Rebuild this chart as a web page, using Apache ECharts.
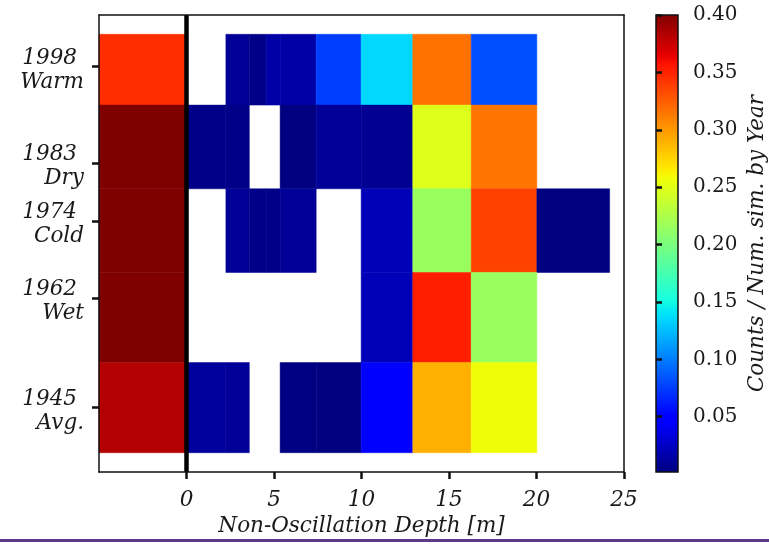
<!DOCTYPE html>
<html>
<head>
<meta charset="utf-8">
<script src="https://cdn.jsdelivr.net/npm/echarts@6/dist/echarts.min.js"></script>
<style>
  html, body { margin: 0; padding: 0; background: #fff; }
  #chart { width: 769px; height: 545px; }
</style>
</head>
<body>
<div id="chart"></div>
<script>
// Depth bin edges [m]; the first bin (-5..0) is the "no non-oscillation" column
const depthEdges = [-5, 0, 2.25, 3.59, 4.55, 5.35, 7.41, 9.98, 12.93, 16.27, 20.02, 24.18];
// Year band edges (top to bottom) and the year each band represents
const yearEdges = [2003, 1992, 1979, 1966, 1952, 1938];
const yearTicks = [1998, 1983, 1974, 1962, 1945];
const yearNames = ['Warm', 'Dry', 'Cold', 'Wet', 'Avg.'];

// Counts / number of simulations per year, one value per depth bin (null = no counts)
const row1998 = [0.345, null, 0.010, 0.005, 0.015, 0.015, 0.076, 0.136, 0.316, 0.082, null];
const row1983 = [0.400, 0.005, 0.005, null, null, 0.002, 0.010, 0.008, 0.248, 0.315, null];
const row1974 = [0.400, null, 0.010, 0.005, 0.005, 0.010, null, 0.021, 0.215, 0.337, 0.002];
const row1962 = [0.400, null, null, null, null, null, null, 0.021, 0.351, 0.215, null];
const row1945 = [0.382, 0.012, 0.010, null, null, 0.003, 0.002, 0.046, 0.290, 0.257, null];
const rows = [row1998, row1983, row1974, row1962, row1945];

// Colour scale limits and colorbar tick values
const vMin = 0.0018;
const vMax = 0.40;
const barTicks = [0.05, 0.10, 0.15, 0.20, 0.25, 0.30, 0.35, 0.40];
const depthTicks = [0, 5, 10, 15, 20, 25];

// "jet" colormap from its piecewise-linear segment definition
const jetSeg = {
  r: [[0, 0], [0.35, 0], [0.66, 1], [0.89, 1], [1, 0.5]],
  g: [[0, 0], [0.125, 0], [0.375, 1], [0.64, 1], [0.91, 0], [1, 0]],
  b: [[0, 0.5], [0.11, 1], [0.34, 1], [0.65, 0], [1, 0]]
};
function seg(pts, t) {
  for (let i = 1; i < pts.length; i++) {
    if (t <= pts[i][0]) {
      const a = pts[i - 1], b = pts[i];
      return a[1] + (b[1] - a[1]) * (t - a[0]) / (b[0] - a[0]);
    }
  }
  return pts[pts.length - 1][1];
}
function jet(t) {
  const c = ['r', 'g', 'b'].map(k => Math.round(255 * seg(jetSeg[k], t)));
  return 'rgb(' + c.join(',') + ')';
}
const jetColors = [];
for (let i = 0; i < 128; i++) jetColors.push(jet(i / 127));

// Rectangle cells: [x0, x1, yTop, yBottom, value]
const cells = [];
rows.forEach((row, i) => {
  row.forEach((v, j) => {
    if (v !== null) cells.push([depthEdges[j], depthEdges[j + 1], yearEdges[i], yearEdges[i + 1], v]);
  });
});

const serif = 'DejaVu Serif';
const textColor = '#1a1a1a';
const chart = echarts.init(document.getElementById('chart'), null, { renderer: 'canvas' });

chart.setOption({
  animation: false,
  backgroundColor: '#fff',
  grid: [
    { left: 99, top: 15, width: 525, height: 457 },
    { left: 656, top: 15, width: 24, height: 457 }
  ],
  xAxis: [
    {
      gridIndex: 0, type: 'value', min: -5, max: 25, interval: 5, z: 10,
      name: 'Non-Oscillation Depth [m]', nameLocation: 'middle', nameGap: 41,
      nameTextStyle: { fontFamily: serif, fontStyle: 'italic', fontSize: 21.5, color: textColor },
      axisLine: { show: true, onZero: false, lineStyle: { color: '#111', width: 1.5 } },
      axisTick: { show: true, length: 7, customValues: depthTicks, lineStyle: { color: '#111', width: 2.5 } },
      axisLabel: { customValues: depthTicks, margin: 17, fontFamily: serif, fontStyle: 'italic', fontSize: 21.5, color: textColor },
      splitLine: { show: false }
    },
    {
      gridIndex: 0, type: 'value', min: -5, max: 25, position: 'top', z: 10,
      axisLine: { show: true, onZero: false, lineStyle: { color: '#111', width: 1.5 } },
      axisTick: { show: false }, axisLabel: { show: false }, splitLine: { show: false }
    },
    {
      gridIndex: 1, type: 'value', min: 0, max: 1, show: false
    }
  ],
  yAxis: [
    {
      gridIndex: 0, type: 'value', min: 1935, max: 2006, z: 10,
      axisLine: { show: true, onZero: false, lineStyle: { color: '#111', width: 1.5 } },
      axisTick: { show: true, length: 7, customValues: yearTicks, lineStyle: { color: '#111', width: 2.5 } },
      axisLabel: {
        customValues: yearTicks, margin: 15, align: 'right', padding: [7, 0, 0, 0],
        fontFamily: serif, fontStyle: 'italic', fontSize: 21.5, lineHeight: 24, color: textColor,
        formatter: v => '{y|' + v + '}\n{n|' + yearNames[yearTicks.indexOf(v)] + '}',
        rich: {
          y: { fontFamily: serif, fontStyle: 'italic', fontSize: 21.5, lineHeight: 24, color: textColor, padding: [0, 7, 0, 0] },
          n: { fontFamily: serif, fontStyle: 'italic', fontSize: 21.5, lineHeight: 24, color: textColor }
        }
      },
      splitLine: { show: false }
    },
    {
      gridIndex: 0, type: 'value', min: 1935, max: 2006, position: 'right', z: 10,
      axisLine: { show: true, onZero: false, lineStyle: { color: '#111', width: 1.5 } },
      axisTick: { show: false }, axisLabel: { show: false }, splitLine: { show: false }
    },
    {
      gridIndex: 1, type: 'value', min: vMin, max: vMax, position: 'right', z: 10,
      name: 'Counts / Num. sim. by Year', nameLocation: 'middle', nameRotate: 90, nameGap: 68,
      nameTextStyle: { fontFamily: serif, fontStyle: 'italic', fontSize: 21.5, color: textColor },
      axisLine: { show: false },
      axisTick: { show: true, length: 6, customValues: barTicks, lineStyle: { color: '#111', width: 2.5 } },
      axisLabel: { customValues: barTicks, margin: 15, fontFamily: serif, fontSize: 20, color: textColor, formatter: v => v.toFixed(2) },
      splitLine: { show: false }
    }
  ],
  visualMap: {
    show: false, type: 'continuous', seriesIndex: 0, dimension: 4,
    min: vMin, max: vMax, inRange: { color: jetColors }
  },
  series: [
    {
      type: 'custom', xAxisIndex: 0, yAxisIndex: 0,
      data: cells,
      renderItem: (params, api) => {
        const a = api.coord([api.value(0), api.value(2)]);
        const b = api.coord([api.value(1), api.value(3)]);
        return {
          type: 'rect',
          shape: { x: Math.min(a[0], b[0]), y: Math.min(a[1], b[1]), width: Math.abs(b[0] - a[0]), height: Math.abs(b[1] - a[1]) },
          style: { fill: api.visual('color'), stroke: api.visual('color'), lineWidth: 0.5 }
        };
      },
      markLine: {
        silent: true, symbol: ['none', 'none'], label: { show: false },
        lineStyle: { color: '#000', width: 4.5, type: 'solid' },
        data: [{ xAxis: 0 }]
      }
    },
    {
      type: 'custom', xAxisIndex: 2, yAxisIndex: 2,
      data: [[0, 1, vMin, vMax]],
      renderItem: (params, api) => {
        const a = api.coord([api.value(0), api.value(3)]);
        const b = api.coord([api.value(1), api.value(2)]);
        const stops = jetColors.map((c, i) => ({ offset: i / (jetColors.length - 1), color: c }));
        return {
          type: 'rect',
          shape: { x: a[0], y: a[1], width: b[0] - a[0], height: b[1] - a[1] },
          style: { fill: new echarts.graphic.LinearGradient(0, 1, 0, 0, stops), stroke: '#111', lineWidth: 1.5 }
        };
      }
    }
  ],
  graphic: [
    { type: 'rect', left: 0, top: 539, shape: { width: 769, height: 3 }, style: { fill: '#5e3a8a' } }
  ]
});
</script>
</body>
</html>
